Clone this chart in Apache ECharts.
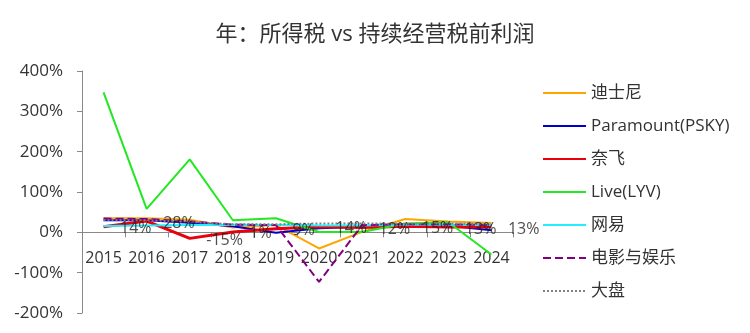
<!DOCTYPE html>
<html>
<head>
<meta charset="utf-8">
<script src="https://cdn.jsdelivr.net/npm/echarts@6/dist/echarts.min.js"></script>
<style>html,body{margin:0;padding:0;background:#fff}#c{width:750px;height:333px}</style>
</head>
<body>
<div id="c"></div>
<script>
var years = ['2015','2016','2017','2018','2019','2020','2021','2022','2023','2024'];
var disney = [35, 35, 31, 12, 18, -40, 1, 33, 27, 23];
var paramount = [30, 30, 24, 15, -1, 10, 14, 13, 16, 5];
var netflix = [14, 28, -15, 1, 9, 14, 12, 15, 13, 13];
var live = [347, 58, 181, 30, 35, 1, 1, 22, 25, -55];
var netease = [16, 17, 18, 19, 18, 17, 17, 19, 19, 19];
var film = [34, 33, 27, 19, 18, -123, 18, 20, 20, 18];
var market = [30, 30, 26, 20, 20, 22, 22, 21, 22, 20];
var yTicks = ['-200%','-100%','0%','100%','200%','300%','400%'];

var FONT = "'Open Sans', 'Noto Sans CJK SC'";
var chart = echarts.init(document.getElementById('c'));
function line(name, data, color, width, type) {
  return {
    name: name, type: 'line', data: data, symbol: 'none',
    lineStyle: {color: color, width: width, type: type || 'solid'},
    itemStyle: {color: color}
  };
}
chart.setOption({
  animation: false,
  textStyle: {fontFamily: FONT},
  title: {
    text: '年：所得税 vs 持续经营税前利润', left: 'center', top: 19,
    textStyle: {fontFamily: FONT, fontSize: 22, fontWeight: 'normal', color: '#333'}
  },
  grid: {left: 82, right: 237, top: 71, bottom: 20, containLabel: false, outerBoundsMode: 'none'},
  legend: {
    orient: 'vertical', left: 537, top: 78,
    itemWidth: 43, itemHeight: 14, itemGap: 13,
    itemStyle: {opacity: 0},
    textStyle: {fontFamily: FONT, fontSize: 17, color: '#333', lineHeight: 20},
    data: ['迪士尼','Paramount(PSKY)','奈飞','Live(LYV)','网易','电影与娱乐','大盘']
  },
  xAxis: {
    type: 'category', data: years, boundaryGap: true,
    axisLine: {onZero: true, lineStyle: {color: '#888'}},
    axisTick: {show: true, length: 5, lineStyle: {color: '#888'}},
    axisLabel: {fontFamily: FONT, fontSize: 16, color: '#333', margin: -63, interval: 0}
  },
  yAxis: {
    type: 'value', min: -200, max: 400, interval: 100,
    splitLine: {show: false},
    axisLine: {show: true, lineStyle: {color: '#888'}},
    axisTick: {show: true, length: 5, lineStyle: {color: '#888'}},
    axisLabel: {fontFamily: FONT, fontSize: 17, color: '#333', margin: 19,
      formatter: function (v) { return yTicks[Math.round((v + 200) / 100)]; }}
  },
  series: [
    line('迪士尼', disney, '#FFA500', 2),
    line('Paramount(PSKY)', paramount, '#0000CD', 2),
    line('奈飞', netflix, '#E8000B', 3),
    line('Live(LYV)', live, '#22E822', 2),
    line('网易', netease, '#22EEFF', 2),
    line('电影与娱乐', film, '#800080', 2, 'dashed'),
    line('大盘', market, '#808080', 2, 'dotted'),
    {
      name: 'netflix-labels', type: 'scatter', data: netflix, symbolSize: 1, z: 10,
      itemStyle: {color: 'rgba(0,0,0,0)'}, silent: true,
      label: {show: true, position: 'right', distance: 16, offset: [0, 2], fontFamily: FONT,
        fontSize: 16, color: '#222', formatter: function (p) { return p.value + '%'; }}
    }
  ]
});
</script>
</body>
</html>
